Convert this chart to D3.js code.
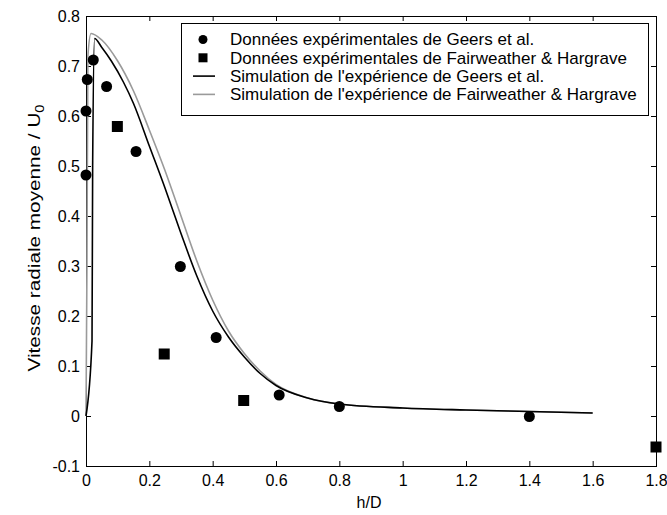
<!DOCTYPE html>
<html>
<head>
<meta charset="utf-8">
<script src="https://cdn.jsdelivr.net/npm/d3@7"></script>
<style>
  body { margin: 0; background: #fff; }
  svg text { font-family: "Liberation Sans", Arial, sans-serif; }
</style>
</head>
<body>
<svg id="chart" width="667" height="515"></svg>
<script>
// Axis ticks
const xTickValues = [0, 0.2, 0.4, 0.6, 0.8, 1, 1.2, 1.4, 1.6, 1.8];
const xTickLabels = ["0", "0.2", "0.4", "0.6", "0.8", "1", "1.2", "1.4", "1.6", "1.8"];
const yTickValues = [-0.1, 0, 0.1, 0.2, 0.3, 0.4, 0.5, 0.6, 0.7, 0.8];
const yTickLabels = ["-0.1", "0", "0.1", "0.2", "0.3", "0.4", "0.5", "0.6", "0.7", "0.8"];

// Experimental data, Geers et al.
const geersExpX = [0.0, 0.0, 0.004, 0.023, 0.065, 0.158, 0.298, 0.411, 0.61, 0.8, 1.4];
const geersExpY = [0.482, 0.61, 0.673, 0.712, 0.659, 0.529, 0.299, 0.157, 0.042, 0.019, -0.001];

// Experimental data, Fairweather & Hargrave
const fhExpX = [0.099, 0.247, 0.498, 1.8];
const fhExpY = [0.579, 0.124, 0.031, -0.062];

// Simulation of the Geers et al. experiment
const geersSimX = [0.0, 0.019, 0.021, 0.027, 0.05, 0.08, 0.118, 0.15, 0.2, 0.25, 0.3, 0.35, 0.4, 0.45, 0.5, 0.55, 0.6, 0.7, 0.8, 1.0, 1.2, 1.4, 1.6];
const geersSimY = [0.0, 0.15, 0.5, 0.755, 0.737, 0.71, 0.668, 0.625, 0.54, 0.455, 0.365, 0.28, 0.21, 0.158, 0.118, 0.085, 0.061, 0.036, 0.024, 0.016, 0.012, 0.009, 0.006];

// Simulation of the Fairweather & Hargrave experiment
const fhSimX = [0.0, 0.003, 0.006, 0.016, 0.05, 0.1, 0.15, 0.2, 0.25, 0.3, 0.35, 0.4, 0.45, 0.5, 0.55, 0.6, 0.7, 0.8, 1.0, 1.2, 1.4, 1.6];
const fhSimY = [0.0, 0.3, 0.72, 0.765, 0.752, 0.71, 0.65, 0.572, 0.49, 0.4, 0.31, 0.232, 0.17, 0.125, 0.09, 0.063, 0.036, 0.024, 0.016, 0.012, 0.009, 0.006];

const seriesNames = [
  "Données expérimentales de Geers et al.",
  "Données expérimentales de Fairweather & Hargrave",
  "Simulation de l'expérience de Geers et al.",
  "Simulation de l'expérience de Fairweather & Hargrave"
];

const plot = { left: 86, right: 656, top: 16, bottom: 466 };
const fontSize = 16;
const legendFontSize = 17;
const greyLine = "#9a9a9a";

const svg = d3.select("#chart");

const x = d3.scaleLinear().domain([0, 1.8]).range([plot.left, plot.right]);
const y = d3.scaleLinear().domain([-0.1, 0.8]).range([plot.bottom, plot.top]);

function styleAxis(g) {
  g.select(".domain").remove();
  g.attr("font-size", fontSize).attr("font-family", "Liberation Sans, Arial, sans-serif");
  g.selectAll(".tick line").attr("stroke", "#000");
  g.selectAll(".tick text").attr("fill", "#000");
}

// Bottom axis
svg.append("g")
  .attr("transform", `translate(0,${plot.bottom})`)
  .call(d3.axisBottom(x).tickValues(xTickValues)
    .tickFormat((d, i) => xTickLabels[i])
    .tickSizeInner(-5).tickSizeOuter(0).tickPadding(9))
  .call(styleAxis);

// Top axis (ticks only)
svg.append("g")
  .attr("transform", `translate(0,${plot.top})`)
  .call(d3.axisTop(x).tickValues(xTickValues).tickFormat("")
    .tickSizeInner(-5).tickSizeOuter(0))
  .call(styleAxis);

// Left axis
svg.append("g")
  .attr("transform", `translate(${plot.left},0)`)
  .call(d3.axisLeft(y).tickValues(yTickValues)
    .tickFormat((d, i) => yTickLabels[i])
    .tickSizeInner(-5).tickSizeOuter(0).tickPadding(6))
  .call(styleAxis);

// Right axis (ticks only)
svg.append("g")
  .attr("transform", `translate(${plot.right},0)`)
  .call(d3.axisRight(y).tickValues(yTickValues).tickFormat("")
    .tickSizeInner(-5).tickSizeOuter(0))
  .call(styleAxis);

// Frame
svg.append("rect")
  .attr("x", plot.left + 0.5).attr("y", plot.top + 0.5)
  .attr("width", plot.right - plot.left).attr("height", plot.bottom - plot.top)
  .attr("fill", "none").attr("stroke", "#000").attr("stroke-width", 1);

// Axis titles
svg.append("text")
  .attr("x", (plot.left + plot.right) / 2 - 2).attr("y", 508)
  .attr("text-anchor", "middle").attr("font-size", fontSize)
  .text("h/D");

// Vertical title, drawn elongated along its baseline
const yTitle = svg.append("text")
  .attr("transform", `translate(40,238) rotate(-90) scale(1.22,1)`)
  .attr("text-anchor", "middle").attr("font-size", legendFontSize);
yTitle.append("tspan").text("Vitesse radiale moyenne / U");
yTitle.append("tspan").attr("font-size", 12).attr("dy", 4).text("0");

// Simulation curves
const lineGen = d3.line().x(d => x(d[0])).y(d => y(d[1])).curve(d3.curveMonotoneX);

svg.append("path")
  .datum(fhSimX.map((v, i) => [v, fhSimY[i]]))
  .attr("d", lineGen)
  .attr("fill", "none").attr("stroke", greyLine).attr("stroke-width", 1.6);

svg.append("path")
  .datum(geersSimX.map((v, i) => [v, geersSimY[i]]))
  .attr("d", lineGen)
  .attr("fill", "none").attr("stroke", "#000").attr("stroke-width", 1.6);

// Experimental markers
svg.append("g").selectAll("circle")
  .data(geersExpX.map((v, i) => [v, geersExpY[i]]))
  .join("circle")
  .attr("cx", d => x(d[0])).attr("cy", d => y(d[1]))
  .attr("r", 5.5).attr("fill", "#000");

const sq = 11;
svg.append("g").selectAll("rect")
  .data(fhExpX.map((v, i) => [v, fhExpY[i]]))
  .join("rect")
  .attr("x", d => x(d[0]) - sq / 2).attr("y", d => y(d[1]) - sq / 2)
  .attr("width", sq).attr("height", sq).attr("fill", "#000");

// Legend
const legend = { x: 181, y: 23, w: 467, h: 92, rowY0: 39.5, rowStep: 18.3 };
const lg = svg.append("g");
lg.append("rect")
  .attr("x", legend.x + 0.5).attr("y", legend.y + 0.5)
  .attr("width", legend.w).attr("height", legend.h)
  .attr("fill", "#fff").attr("stroke", "#000").attr("stroke-width", 1);

seriesNames.forEach((name, i) => {
  const cy = legend.rowY0 + i * legend.rowStep;
  if (i === 0) {
    lg.append("circle").attr("cx", 203).attr("cy", cy).attr("r", 4.5).attr("fill", "#000");
  } else if (i === 1) {
    lg.append("rect").attr("x", 203 - 4.5).attr("y", cy - 4.5).attr("width", 9).attr("height", 9).attr("fill", "#000");
  } else {
    lg.append("line").attr("x1", 193).attr("x2", 215).attr("y1", cy).attr("y2", cy)
      .attr("stroke", i === 2 ? "#000" : greyLine).attr("stroke-width", 1.6);
  }
  lg.append("text").attr("x", 230).attr("y", cy).attr("dy", "0.35em")
    .attr("font-size", legendFontSize).text(name);
});
</script>
</body>
</html>
